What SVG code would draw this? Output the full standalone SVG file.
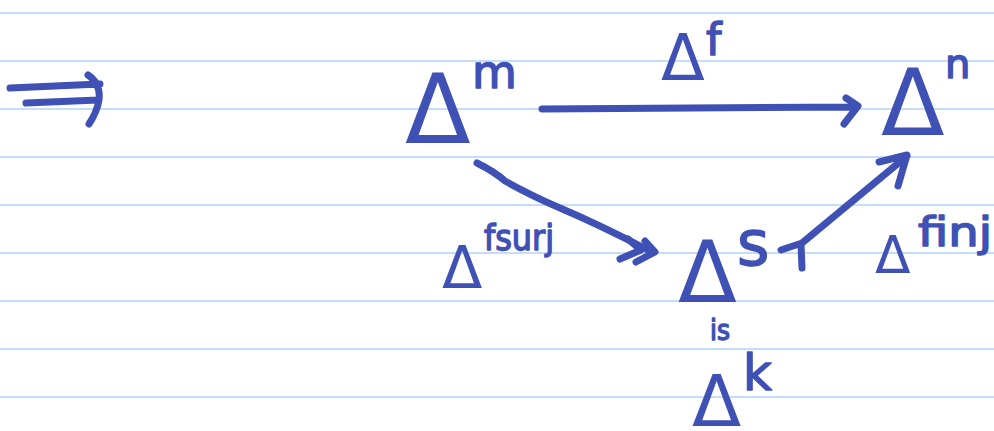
<svg xmlns="http://www.w3.org/2000/svg" width="994" height="431" viewBox="0 0 994 431">
<style>
.rule{stroke:#c7dbfb;stroke-width:2}
.ink{fill:none;stroke:#3f51b5;stroke-width:7;stroke-linecap:round;stroke-linejoin:round}
text{font-family:"DejaVu Sans",sans-serif;fill:#3f51b5}
.sup{stroke:#3f51b5;stroke-width:1.5;stroke-linejoin:round}
</style>
<rect width="994" height="431" fill="#ffffff"/>
<g id="rules">
<line class="rule" x1="0" y1="13" x2="994" y2="13"/>
<line class="rule" x1="0" y1="61" x2="994" y2="61"/>
<line class="rule" x1="0" y1="109" x2="994" y2="109"/>
<line class="rule" x1="0" y1="157" x2="994" y2="157"/>
<line class="rule" x1="0" y1="205" x2="994" y2="205"/>
<line class="rule" x1="0" y1="253" x2="994" y2="253"/>
<line class="rule" x1="0" y1="301" x2="994" y2="301"/>
<line class="rule" x1="0" y1="349" x2="994" y2="349"/>
<line class="rule" x1="0" y1="397" x2="994" y2="397"/>
</g>
<g id="connectors">
<path class="ink" d="M10 88 L100 84 M26 103 L98 100 M88 75 Q101 84 99 100 Q97 112 89 124"/>
<path class="ink" d="M542 109 L857 107 M846 98 L858 106 L844 124"/>
<path class="ink" d="M477 163 Q495 172 505 181 Q530 195 560 208 Q600 225 648 250"/>
<path class="ink" d="M628 239 L641 250 L620 259 M645 241 L655 252 L636 262"/>
<path class="ink" d="M781 250 L802 243 L907 156 M801 244 L802 268 M879 162 L907 155 L898 186"/>
</g>
<g id="node-m">
<text x="405" y="143" font-size="96">Δ</text>
<text class="sup" x="472" y="88" font-size="46">m</text>
</g>
<g id="node-f">
<text x="661" y="80" font-size="64">Δ</text>
<text class="sup" x="706" y="55" font-size="44">f</text>
</g>
<g id="node-n">
<text x="881" y="135" font-size="93">Δ</text>
<text class="sup" x="945" y="78" font-size="40">n</text>
</g>
<g id="node-fsurj">
<text x="442" y="288" font-size="59">Δ</text>
<text class="sup" x="484" y="250" font-size="36" textLength="70" lengthAdjust="spacingAndGlyphs">fsurj</text>
</g>
<g id="node-s">
<text x="678" y="302" font-size="86">Δ</text>
<text class="sup" x="737" y="265" font-size="62">s</text>
</g>
<g id="node-finj">
<text x="875" y="273" font-size="52">Δ</text>
<text class="sup" x="918" y="246" font-size="40" textLength="74" lengthAdjust="spacingAndGlyphs">finj</text>
</g>
<g id="node-is">
<text class="sup" x="710" y="340" font-size="28" textLength="20" lengthAdjust="spacingAndGlyphs">is</text>
</g>
<g id="node-k">
<text x="692" y="426" font-size="72">Δ</text>
<text class="sup" x="743" y="390" font-size="50">k</text>
</g>
</svg>
